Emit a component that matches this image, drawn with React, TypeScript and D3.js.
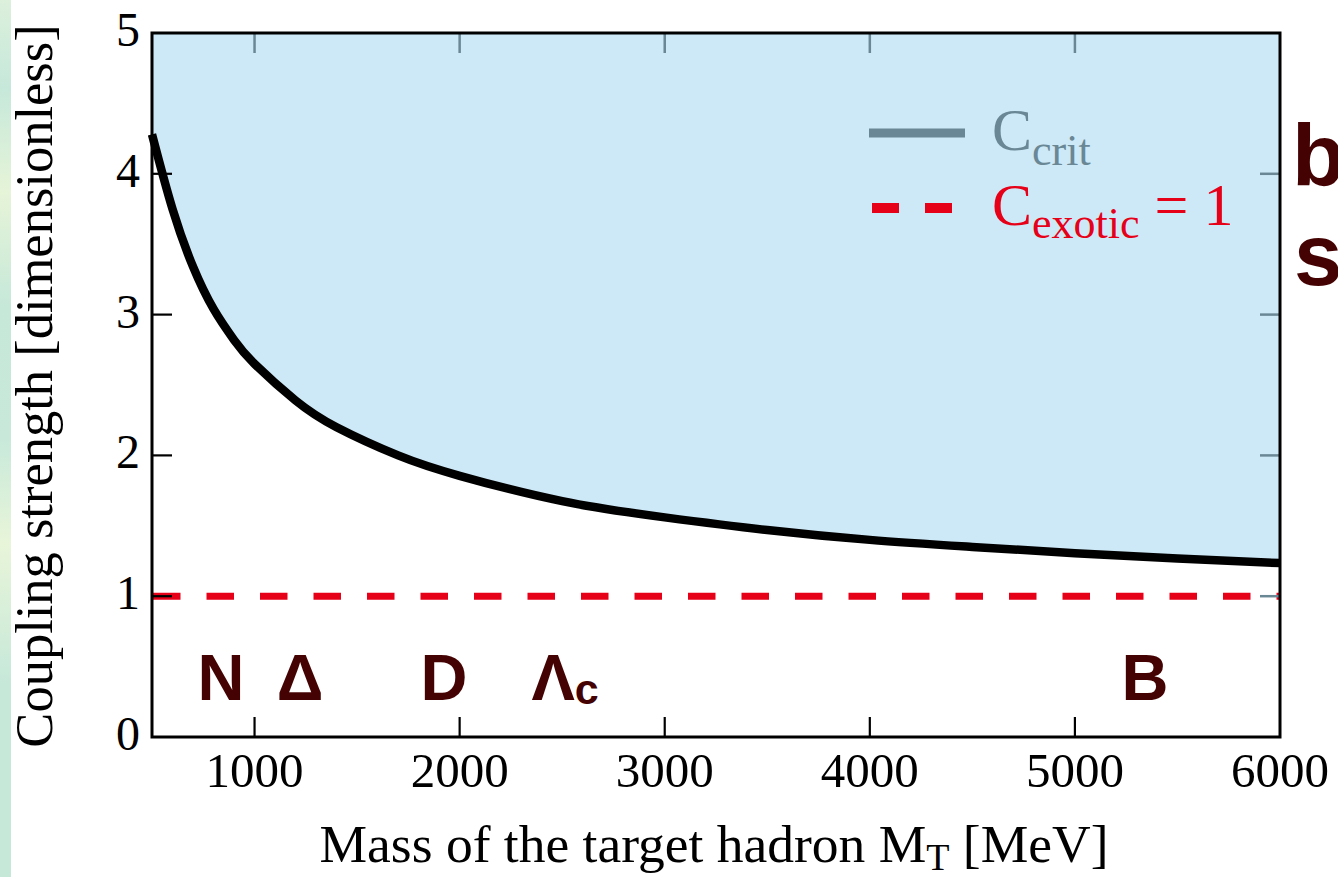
import React from "react";
import * as d3 from "d3";

// ---- data ----
const massValues = [500, 600, 700, 800, 900, 1000, 1200, 1400, 1700, 2000, 2500, 3000, 3500, 4000, 4500, 5000, 5500, 6000];
const ccritValues = [4.28, 3.75, 3.34, 3.04, 2.82, 2.65, 2.39, 2.2, 2.0, 1.855, 1.675, 1.56, 1.47, 1.4, 1.35, 1.305, 1.268, 1.235];
const cExotic = 1;
const xTicks = [1000, 2000, 3000, 4000, 5000, 6000];
const yTicks = [0, 1, 2, 3, 4, 5];
const hadronNames = ["N", "Δ", "D", "Λ", "B"];
const hadronSubs = ["", "", "", "c", ""];
const hadronLabelMass = [836, 1222, 1924, 2514, 5342];
const xDomain = [500, 6000];
const yDomain = [0, 5];

const W = 1338;
const H = 877;
const L = 152, R = 1280, T = 33, B = 737;

const SERIF = "'Liberation Serif', 'Times New Roman', serif";
const SANS = "'Liberation Sans', Arial, sans-serif";
const BROWN = "#440202";
const GRAY = "#6a8795";
const RED = "#e60018";
const BLUE = "#cde9f7";

export default function App() {
  const x = d3.scaleLinear().domain(xDomain).range([L, R]);
  const y = d3.scaleLinear().domain(yDomain).range([B, T]);
  const pts = massValues.map((m, i) => [m, ccritValues[i]] as [number, number]);

  const area = d3
    .area<[number, number]>()
    .x((d) => x(d[0]))
    .y0(() => y(yDomain[1]))
    .y1((d) => y(d[1]))
    .curve(d3.curveNatural);
  const line = d3
    .line<[number, number]>()
    .x((d) => x(d[0]))
    .y((d) => y(d[1]))
    .curve(d3.curveNatural);

  return (
    <svg width={W} height={H} style={{ position: "absolute", left: 0, top: 0, background: "#fff" }}>
      <defs>
        <linearGradient id="strip" x1="0" y1="0" x2="0" y2="1">
          <stop offset="0" stopColor="#dcf0dc" />
          <stop offset="0.1" stopColor="#c6e8da" />
          <stop offset="0.22" stopColor="#e6f4d8" />
          <stop offset="0.35" stopColor="#c6e8d9" />
          <stop offset="0.5" stopColor="#c8e9da" />
          <stop offset="0.62" stopColor="#e8f5d9" />
          <stop offset="0.78" stopColor="#c6e8d9" />
          <stop offset="1" stopColor="#c6e8d9" />
        </linearGradient>
      </defs>
      <rect x={0} y={0} width={11} height={H} fill="url(#strip)" />

      {/* region above critical coupling */}
      <path d={area(pts) || ""} fill={BLUE} />

      {/* exotic line */}
      <line
        x1={x(xDomain[0])}
        x2={x(xDomain[1])}
        y1={y(cExotic)}
        y2={y(cExotic)}
        stroke={RED}
        strokeWidth={7}
        strokeDasharray="27.5 26"
        strokeDashoffset={-1}
      />

      {/* ticks */}
      {xTicks.filter((t) => t < xDomain[1]).map((t) => (
        <g key={"xt" + t}>
          <line x1={x(t)} x2={x(t)} y1={B} y2={B - 20} stroke="#000" strokeWidth={2.2} />
          <line x1={x(t)} x2={x(t)} y1={T} y2={T + 20} stroke={GRAY} strokeWidth={2.5} />
        </g>
      ))}
      {yTicks.filter((t) => t > yDomain[0] && t < yDomain[1]).map((t) => (
        <g key={"yt" + t}>
          <line x1={L} x2={L + 20} y1={y(t)} y2={y(t)} stroke="#000" strokeWidth={2.2} />
          <line x1={R} x2={R - 20} y1={y(t)} y2={y(t)} stroke={GRAY} strokeWidth={2.5} />
        </g>
      ))}

      {/* critical curve */}
      <path d={line(pts) || ""} fill="none" stroke="#000" strokeWidth={8.5} />

      {/* frame */}
      <rect x={L} y={T} width={R - L} height={B - T} fill="none" stroke="#000" strokeWidth={3} />

      {/* tick labels */}
      {xTicks.map((t) => (
        <text key={"xl" + t} x={x(t)} y={787} textAnchor="middle" fontFamily={SERIF} fontSize={49} fill="#000">
          {t}
        </text>
      ))}
      {yTicks.map((t) => (
        <text key={"yl" + t} x={140} y={y(t) + 13} textAnchor="end" fontFamily={SERIF} fontSize={48} fill="#000">
          {t}
        </text>
      ))}

      {/* axis titles */}
      <text x={(L + R) / 2 - 2} y={862} textAnchor="middle" fontFamily={SERIF} fontSize={53.5} fill="#000">
        Mass of the target hadron M
        <tspan fontSize={38} dy={8}>T</tspan>
        <tspan dy={-8}> [MeV]</tspan>
      </text>
      <text
        transform={`translate(52, 386) rotate(-90)`}
        textAnchor="middle"
        fontFamily={SERIF}
        fontSize={52.5}
        fill="#000"
      >
        Coupling strength [dimensionless]
      </text>

      {/* legend */}
      <line x1={869} x2={965} y1={133} y2={133} stroke={GRAY} strokeWidth={9} />
      <text x={992} y={150} fontFamily={SERIF} fontSize={60} fill={GRAY}>
        C<tspan fontSize={44} dy={15}>crit</tspan>
      </text>
      <line x1={872} x2={953} y1={208} y2={208} stroke={RED} strokeWidth={10} strokeDasharray="27 26" />
      <text x={992} y={225} fontFamily={SERIF} fontSize={60} fill={RED}>
        C<tspan fontSize={44} dy={13}>exotic</tspan>
        <tspan dy={-13}> = 1</tspan>
      </text>

      {/* hadron labels */}
      {hadronNames.map((n, i) => (
        <text
          key={"h" + i}
          x={x(hadronLabelMass[i])}
          y={700}
          textAnchor="middle"
          fontFamily={SANS}
          fontWeight="bold"
          fontSize={65}
          fill={BROWN}
        >
          {n}
          {hadronSubs[i] ? (
            <tspan fontSize={43} dy={4}>
              {hadronSubs[i]}
            </tspan>
          ) : null}
        </text>
      ))}

      {/* side text, cut by the page edge as in the reference */}
      <text x={1292} y={185} fontFamily={SANS} fontWeight="bold" fontSize={87} fill={BROWN}>
        b
      </text>
      <text x={1294} y={285} fontFamily={SANS} fontWeight="bold" fontSize={87} fill={BROWN}>
        s
      </text>
    </svg>
  );
}
